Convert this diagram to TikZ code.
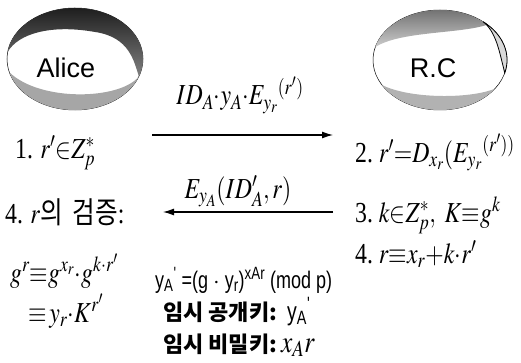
\documentclass[tikz,border=0pt]{standalone}
\usepackage{mathptmx}
\usepackage{fontspec}
\setmainfont{Liberation Serif}
\newfontfamily\kr{Noto Sans CJK KR}
\newfontfamily\arial{Liberation Sans}
\newfontfamily\narrowsans[FakeStretch=0.75]{Liberation Sans}
\newcommand{\sq}[1]{\scalebox{0.82}[1]{#1}}
\usetikzlibrary{positioning,arrows.meta,shapes.geometric}

\begin{document}
\begin{tikzpicture}[x=1pt, y=1pt,
    party/.style={ellipse, draw, line width=0.5pt, inner sep=0pt},
    who/.style={inner sep=0pt, font=\arial\fontsize{27}{27}\selectfont},
    stepline/.style={anchor=base west, inner sep=0pt, font=\fontsize{29}{31}\selectfont},
    msg/.style={anchor=base, inner sep=0pt, font=\fontsize{29}{31}\selectfont},
    note/.style={anchor=base west, inner sep=0pt, font=\narrowsans\fontsize{24}{26}\selectfont},
    keyline/.style={anchor=base west, inner sep=0pt, font=\kr\bfseries\fontsize{22}{24}\selectfont},
    arr/.style={-{Latex[length=11pt, width=7pt]}, line width=1.2pt},
  ]
  \useasboundingbox (0,0) rectangle (521,362);

  % ----- parties -----
  \node[party, minimum width=136pt, minimum height=102pt] (alice) at (75,303) {};
  \node[party, minimum width=134pt, minimum height=100pt] (rc) at (440,302) {};

  % shading of Alice
  \shade[top color=black!90, bottom color=black!50]
    (7.7,310.1) arc[start angle=172, end angle=-20, x radius=68, y radius=51]
    .. controls (134,300) and (130,325) .. (95,330)
    .. controls (50,338) and (18,328) .. cycle;
  \fill[black!35]
    (9.3,289.8) arc[start angle=195, end angle=340, x radius=68, y radius=51]
    .. controls (120,262) and (40,260) .. cycle;

  % shading of R.C
  \shade[top color=black!60, bottom color=black!20]
    (375.3,314.9) arc[start angle=165, end angle=45, x radius=67, y radius=50]
    .. controls (460,328) and (400,331) .. cycle;
  \filldraw[fill=black!15, line width=0.8pt]
    (483.1,340.3) arc[start angle=50, end angle=-15, x radius=67, y radius=50]
    .. controls (499,312) and (496,330) .. cycle;
  \fill[black!30]
    (382,277) arc[start angle=210, end angle=325, x radius=67, y radius=50]
    .. controls (470,263) and (410,263) .. cycle;

  \node[who] (alicename) at (66,294) {Alice};
  \node[who] (rcname) at (433,294) {R.C};

  % ----- messages -----
  \node[msg] (msgA) at (240,257) {\sq{$ID_{A}{\cdot}y_{A}{\cdot}E_{y_r}{}^{(r')}$}};
  \coordinate (a1s) at (152,227);
  \coordinate (a1e) at (333,227);
  \draw[arr] (a1s) -- (a1e);

  \node[msg] (msgB) at (238,164) {\sq{$E_{y_A}(ID'_{A},r)$}};
  \coordinate (a2s) at (333,150);
  \coordinate (a2e) at (163,150);
  \draw[arr] (a2s) -- (a2e);

  % ----- Alice side -----
  \node[stepline] (step1) at (15,204) {\sq{1.\hspace{9pt}$r'{\in}Z_{p}^{*}$}};
  \node[stepline] (check) at (5,139) {\sq{4.\hspace{9pt}$r${\kr\fontsize{30}{32}\selectfont 의\hspace{12pt}검증}:}};
  \node[stepline] (gr1) at (10,80) {\sq{$g^{r}{\equiv}g^{x_r}{\cdot}g^{k\cdot r'}$}};
  \node[stepline] (gr2) at (28,40) {\sq{${\equiv}\,y_r{\cdot}K^{r'}$}};

  % ----- R.C side -----
  \node[stepline] (step2) at (355,200) {\sq{2.\hspace{7pt}$r'{=}D_{x_r}(E_{y_r}{}^{(r'))}$}};
  \node[stepline] (step3) at (355,140) {\sq{3.\hspace{7pt}$k{\in}Z_{p}^{*},\ K{\equiv}g^{k}$}};
  \node[stepline] (step4) at (355,99) {\sq{4.\hspace{7pt}$r{\equiv}x_r{+}k{\cdot}r'$}};

  % ----- keys -----
  \node[note] (keyeq) at (155,74) {y\textsubscript{A}\textsuperscript{'} =(g $\cdot$ y\textsubscript{r})\textsuperscript{xAr} (mod p)};
  \node[keyline] (kpub) at (163,42) {임시 공개키:\hspace{10pt}{\narrowsans\mdseries\fontsize{26}{28}\selectfont y\textsubscript{A}\textsuperscript{'}}};
  \node[keyline] (kpriv) at (163,10) {임시 비밀키:\hspace{4pt}{\fontsize{31}{33}\selectfont\sq{$x_{A}r$}}};
\end{tikzpicture}
\end{document}
